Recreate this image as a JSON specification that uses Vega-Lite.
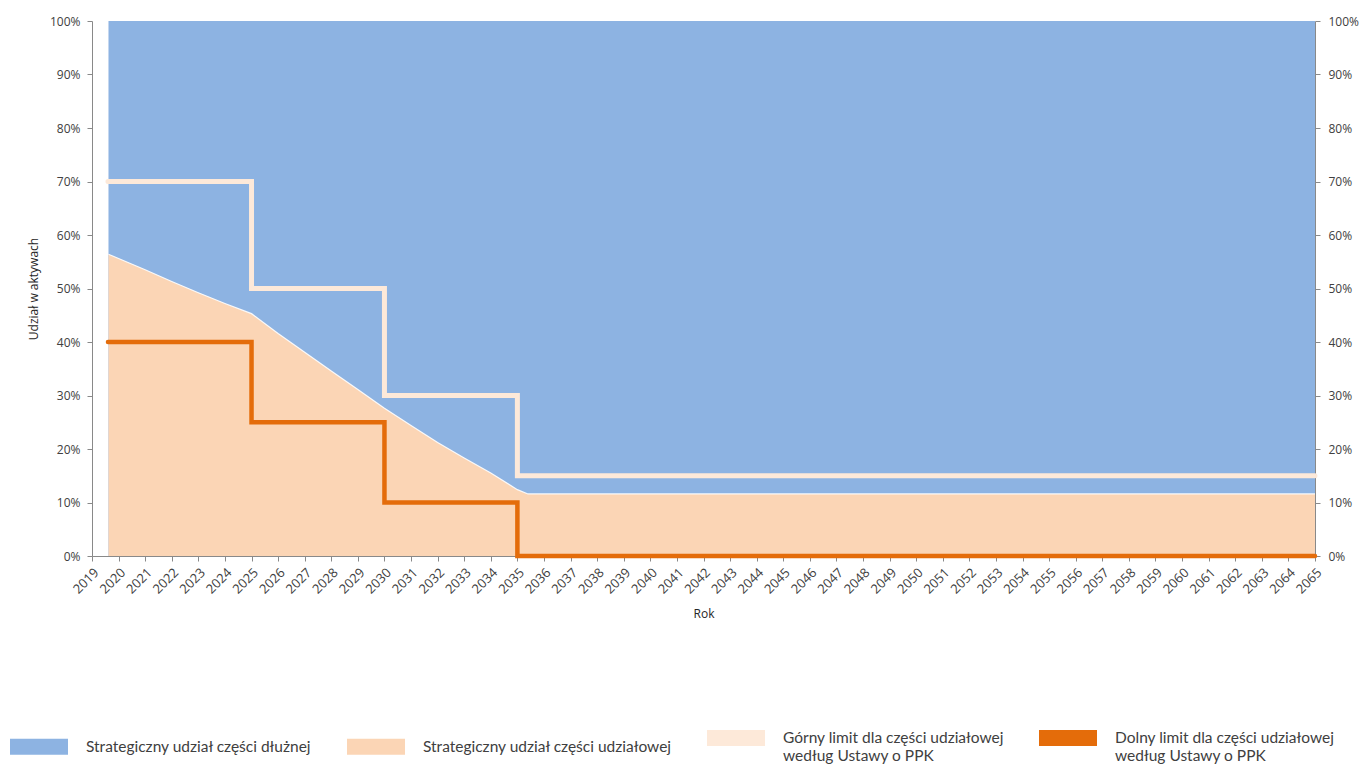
{
  "$schema": "https://vega.github.io/schema/vega-lite/v6.json",
  "autosize": "none",
  "width": 1223,
  "height": 535,
  "padding": {"left": 92, "top": 21, "right": 47, "bottom": 209},
  "background": "white",
  "config": {
    "view": {"stroke": null},
    "axis": {
      "grid": false,
      "domainColor": "#898989",
      "tickColor": "#898989",
      "tickSize": 5,
      "labelFont": "Open Sans",
      "labelFontSize": 12,
      "labelColor": "#404040",
      "titleFont": "Open Sans",
      "titleFontSize": 12,
      "titleFontWeight": "normal",
      "titleColor": "#262626"
    }
  },
  "datasets": {
    "share": [
      {"year": 2019.62, "equity": 56.4},
      {"year": 2020, "equity": 55.6},
      {"year": 2021, "equity": 53.5},
      {"year": 2022, "equity": 51.3},
      {"year": 2023, "equity": 49.2},
      {"year": 2024, "equity": 47.2},
      {"year": 2025, "equity": 45.3},
      {"year": 2026, "equity": 41.6},
      {"year": 2027, "equity": 38.1},
      {"year": 2028, "equity": 34.6},
      {"year": 2029, "equity": 31.1},
      {"year": 2030, "equity": 27.6},
      {"year": 2031, "equity": 24.4},
      {"year": 2032, "equity": 21.2},
      {"year": 2033, "equity": 18.3},
      {"year": 2034, "equity": 15.5},
      {"year": 2035, "equity": 12.4},
      {"year": 2035.4, "equity": 11.6},
      {"year": 2065, "equity": 11.6}
    ],
    "limits": [
      {"year": 2019.6, "upper": 70, "lower": 40},
      {"year": 2025, "upper": 50, "lower": 25},
      {"year": 2030, "upper": 30, "lower": 10},
      {"year": 2035, "upper": 15, "lower": 0},
      {"year": 2065, "upper": 15, "lower": 0}
    ]
  },
  "resolve": {"scale": {"x": "shared", "y": "shared"}, "axis": {"x": "independent", "y": "independent"}},
  "layer": [
    {
      "data": {"name": "share"},
      "mark": {"type": "area"},
      "encoding": {
        "x": {
          "field": "year", "type": "quantitative",
          "scale": {"domain": [2019, 2065], "nice": false, "zero": false},
          "axis": {
            "title": "Rok",
            "values": [2019,2020,2021,2022,2023,2024,2025,2026,2027,2028,2029,2030,2031,2032,2033,2034,2035,2036,2037,2038,2039,2040,2041,2042,2043,2044,2045,2046,2047,2048,2049,2050,2051,2052,2053,2054,2055,2056,2057,2058,2059,2060,2061,2062,2063,2064,2065],
            "format": "d",
            "labelAngle": -45,
            "labelAlign": "right",
            "labelBaseline": "top",
            "labelFontSize": 13,
            "labelPadding": 5,
            "labelOverlap": false,
            "labelFlush": false,
            "titlePadding": 12
          }
        },
        "y": {
          "datum": 100, "type": "quantitative",
          "scale": {"domain": [0, 100], "nice": false},
          "axis": {
            "orient": "left",
            "title": "Udział w aktywach",
            "values": [0,10,20,30,40,50,60,70,80,90,100],
            "labelExpr": "datum.value + '%'",
            "labelPadding": 7,
            "titlePadding": 9
          }
        },
        "color": {
          "datum": "Strategiczny udział części dłużnej",
          "type": "nominal",
          "scale": {
            "domain": ["Strategiczny udział części dłużnej", "Strategiczny udział części udziałowej", "Górny limit dla części udziałowej według Ustawy o PPK", "Dolny limit dla części udziałowej według Ustawy o PPK"],
            "range": ["#8DB3E2", "#FBD5B5", "#FDE9D9", "#E46C0A"]
          },
          "legend": {
            "orient": "none",
            "legendX": -82,
            "legendY": 688,
            "direction": "horizontal",
            "columns": 4,
            "title": null,
            "padding": 0,
            "symbolType": "M-1,-0.276L1,-0.276L1,0.276L-1,0.276Z",
            "symbolSize": 3364,
            "symbolStrokeWidth": 0,
            "symbolOpacity": 1,
            "labelFont": "Lato",
            "labelFontSize": 15.5,
            "labelColor": "#404040",
            "labelOffset": 18,
            "labelLimit": 400,
            "columnPadding": 35,
            "gridAlign": "each",
            "labelExpr": "indexof(datum.label, ' według') > 0 ? [substring(datum.label, 0, indexof(datum.label, ' według')), substring(datum.label, indexof(datum.label, ' według') + 1)] : datum.label"
          }
        }
      }
    },
    {
      "data": {"name": "share"},
      "mark": {"type": "area"},
      "encoding": {
        "x": {"field": "year", "type": "quantitative", "axis": null},
        "y": {
          "field": "equity", "type": "quantitative",
          "axis": {
            "orient": "right",
            "title": null,
            "values": [0,10,20,30,40,50,60,70,80,90,100],
            "labelExpr": "datum.value + '%'",
            "labelPadding": 8
          }
        },
        "color": {"datum": "Strategiczny udział części udziałowej", "type": "nominal"}
      }
    },
    {
      "data": {"name": "share"},
      "mark": {"type": "line", "color": "#FFFFFF", "strokeWidth": 1.2, "opacity": 0.9},
      "encoding": {
        "x": {"field": "year", "type": "quantitative", "axis": null},
        "y": {"field": "equity", "type": "quantitative", "axis": null}
      }
    },
    {
      "data": {"name": "limits"},
      "mark": {"type": "line", "interpolate": "step-after", "strokeWidth": 5, "strokeCap": "round"},
      "encoding": {
        "x": {"field": "year", "type": "quantitative", "axis": null},
        "y": {"field": "upper", "type": "quantitative", "axis": null},
        "color": {"datum": "Górny limit dla części udziałowej według Ustawy o PPK", "type": "nominal"}
      }
    },
    {
      "data": {"name": "limits"},
      "mark": {"type": "line", "interpolate": "step-after", "strokeWidth": 4.5, "strokeCap": "round"},
      "encoding": {
        "x": {"field": "year", "type": "quantitative", "axis": null},
        "y": {"field": "lower", "type": "quantitative", "axis": null},
        "color": {"datum": "Dolny limit dla części udziałowej według Ustawy o PPK", "type": "nominal"}
      }
    }
  ]
}
